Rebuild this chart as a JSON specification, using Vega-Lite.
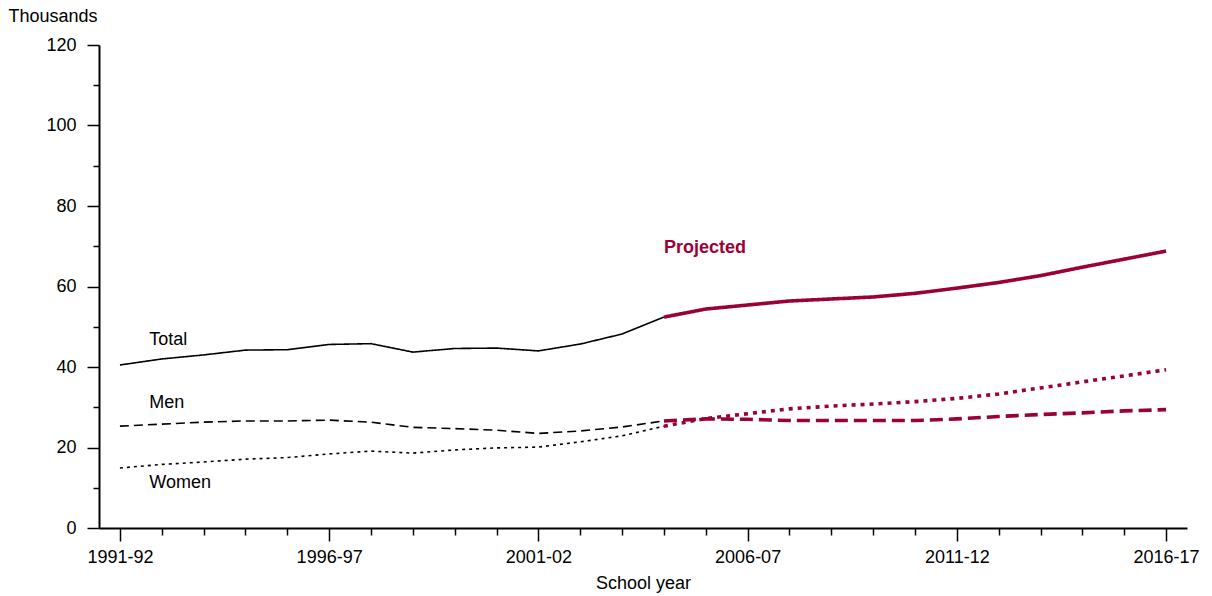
{
  "$schema": "https://vega.github.io/schema/vega-lite/v6.json",
  "width": 1088,
  "height": 483,
  "autosize": {"type": "none"},
  "padding": {"left": 99, "top": 45, "right": 25, "bottom": 68},
  "config": {"view": {"stroke": null}, "font": "Liberation Sans", "background": "white"},
  "datasets": {
    "lines": [
      {"year": 1991, "value": 40.5, "series": "Total", "period": "Observed"},
      {"year": 1992, "value": 42.0, "series": "Total", "period": "Observed"},
      {"year": 1993, "value": 43.0, "series": "Total", "period": "Observed"},
      {"year": 1994, "value": 44.2, "series": "Total", "period": "Observed"},
      {"year": 1995, "value": 44.3, "series": "Total", "period": "Observed"},
      {"year": 1996, "value": 45.6, "series": "Total", "period": "Observed"},
      {"year": 1997, "value": 45.8, "series": "Total", "period": "Observed"},
      {"year": 1998, "value": 43.7, "series": "Total", "period": "Observed"},
      {"year": 1999, "value": 44.6, "series": "Total", "period": "Observed"},
      {"year": 2000, "value": 44.7, "series": "Total", "period": "Observed"},
      {"year": 2001, "value": 44.0, "series": "Total", "period": "Observed"},
      {"year": 2002, "value": 45.7, "series": "Total", "period": "Observed"},
      {"year": 2003, "value": 48.2, "series": "Total", "period": "Observed"},
      {"year": 2004, "value": 52.4, "series": "Total", "period": "Observed"},
      {"year": 2004, "value": 52.4, "series": "Total", "period": "Projected"},
      {"year": 2005, "value": 54.4, "series": "Total", "period": "Projected"},
      {"year": 2006, "value": 55.4, "series": "Total", "period": "Projected"},
      {"year": 2007, "value": 56.4, "series": "Total", "period": "Projected"},
      {"year": 2008, "value": 56.9, "series": "Total", "period": "Projected"},
      {"year": 2009, "value": 57.4, "series": "Total", "period": "Projected"},
      {"year": 2010, "value": 58.3, "series": "Total", "period": "Projected"},
      {"year": 2011, "value": 59.6, "series": "Total", "period": "Projected"},
      {"year": 2012, "value": 61.0, "series": "Total", "period": "Projected"},
      {"year": 2013, "value": 62.7, "series": "Total", "period": "Projected"},
      {"year": 2014, "value": 64.8, "series": "Total", "period": "Projected"},
      {"year": 2015, "value": 66.8, "series": "Total", "period": "Projected"},
      {"year": 2016, "value": 68.8, "series": "Total", "period": "Projected"},
      {"year": 1991, "value": 25.3, "series": "Men", "period": "Observed"},
      {"year": 1992, "value": 25.8, "series": "Men", "period": "Observed"},
      {"year": 1993, "value": 26.3, "series": "Men", "period": "Observed"},
      {"year": 1994, "value": 26.6, "series": "Men", "period": "Observed"},
      {"year": 1995, "value": 26.6, "series": "Men", "period": "Observed"},
      {"year": 1996, "value": 26.8, "series": "Men", "period": "Observed"},
      {"year": 1997, "value": 26.3, "series": "Men", "period": "Observed"},
      {"year": 1998, "value": 25.0, "series": "Men", "period": "Observed"},
      {"year": 1999, "value": 24.7, "series": "Men", "period": "Observed"},
      {"year": 2000, "value": 24.3, "series": "Men", "period": "Observed"},
      {"year": 2001, "value": 23.5, "series": "Men", "period": "Observed"},
      {"year": 2002, "value": 24.1, "series": "Men", "period": "Observed"},
      {"year": 2003, "value": 25.1, "series": "Men", "period": "Observed"},
      {"year": 2004, "value": 26.6, "series": "Men", "period": "Observed"},
      {"year": 2004, "value": 26.6, "series": "Men", "period": "Projected"},
      {"year": 2005, "value": 27.1, "series": "Men", "period": "Projected"},
      {"year": 2006, "value": 27.0, "series": "Men", "period": "Projected"},
      {"year": 2007, "value": 26.7, "series": "Men", "period": "Projected"},
      {"year": 2008, "value": 26.7, "series": "Men", "period": "Projected"},
      {"year": 2009, "value": 26.7, "series": "Men", "period": "Projected"},
      {"year": 2010, "value": 26.7, "series": "Men", "period": "Projected"},
      {"year": 2011, "value": 27.1, "series": "Men", "period": "Projected"},
      {"year": 2012, "value": 27.7, "series": "Men", "period": "Projected"},
      {"year": 2013, "value": 28.2, "series": "Men", "period": "Projected"},
      {"year": 2014, "value": 28.6, "series": "Men", "period": "Projected"},
      {"year": 2015, "value": 29.1, "series": "Men", "period": "Projected"},
      {"year": 2016, "value": 29.4, "series": "Men", "period": "Projected"},
      {"year": 1991, "value": 14.9, "series": "Women", "period": "Observed"},
      {"year": 1992, "value": 15.8, "series": "Women", "period": "Observed"},
      {"year": 1993, "value": 16.4, "series": "Women", "period": "Observed"},
      {"year": 1994, "value": 17.1, "series": "Women", "period": "Observed"},
      {"year": 1995, "value": 17.5, "series": "Women", "period": "Observed"},
      {"year": 1996, "value": 18.4, "series": "Women", "period": "Observed"},
      {"year": 1997, "value": 19.1, "series": "Women", "period": "Observed"},
      {"year": 1998, "value": 18.6, "series": "Women", "period": "Observed"},
      {"year": 1999, "value": 19.4, "series": "Women", "period": "Observed"},
      {"year": 2000, "value": 19.9, "series": "Women", "period": "Observed"},
      {"year": 2001, "value": 20.1, "series": "Women", "period": "Observed"},
      {"year": 2002, "value": 21.4, "series": "Women", "period": "Observed"},
      {"year": 2003, "value": 22.9, "series": "Women", "period": "Observed"},
      {"year": 2004, "value": 25.3, "series": "Women", "period": "Observed"},
      {"year": 2004, "value": 25.3, "series": "Women", "period": "Projected"},
      {"year": 2005, "value": 27.2, "series": "Women", "period": "Projected"},
      {"year": 2006, "value": 28.4, "series": "Women", "period": "Projected"},
      {"year": 2007, "value": 29.6, "series": "Women", "period": "Projected"},
      {"year": 2008, "value": 30.3, "series": "Women", "period": "Projected"},
      {"year": 2009, "value": 30.8, "series": "Women", "period": "Projected"},
      {"year": 2010, "value": 31.4, "series": "Women", "period": "Projected"},
      {"year": 2011, "value": 32.2, "series": "Women", "period": "Projected"},
      {"year": 2012, "value": 33.3, "series": "Women", "period": "Projected"},
      {"year": 2013, "value": 34.8, "series": "Women", "period": "Projected"},
      {"year": 2014, "value": 36.3, "series": "Women", "period": "Projected"},
      {"year": 2015, "value": 37.8, "series": "Women", "period": "Projected"},
      {"year": 2016, "value": 39.3, "series": "Women", "period": "Projected"}
    ],
    "labels": [
      {"year": 1991.7, "value": 46.7, "label": "Total", "kind": "series"},
      {"year": 1991.7, "value": 31.1, "label": "Men", "kind": "series"},
      {"year": 1991.7, "value": 11.2, "label": "Women", "kind": "series"},
      {"year": 2004.0, "value": 69.6, "label": "Projected", "kind": "projected"}
    ]
  },
  "encoding": {
    "x": {
      "field": "year",
      "type": "quantitative",
      "scale": {"domain": [1990.5, 2016.5], "nice": false, "zero": false},
      "axis": {
        "title": "School year",
        "titleFont": "Liberation Sans",
        "titleFontSize": 18,
        "titleFontWeight": "normal",
        "titleColor": "black",
        "titlePadding": 8,
        "values": [1991, 1992, 1993, 1994, 1995, 1996, 1997, 1998, 1999, 2000, 2001, 2002, 2003, 2004, 2005, 2006, 2007, 2008, 2009, 2010, 2011, 2012, 2013, 2014, 2015, 2016],
        "labelExpr": "datum.value % 5 == 1 ? datum.value + '-' + slice('0' + ((datum.value + 1) % 100), -2) : ''",
        "labelFont": "Liberation Sans",
        "labelFontSize": 18,
        "labelColor": "black",
        "labelPadding": 7,
        "labelFlush": false,
        "labelOverlap": false,
        "grid": false,
        "domainColor": "black",
        "domainWidth": 2,
        "tickColor": "black",
        "tickWidth": 1.5,
        "tickSize": {"condition": {"test": "datum.value % 5 == 1", "value": 13}, "value": 7}
      }
    },
    "y": {
      "field": "value",
      "type": "quantitative",
      "scale": {"domain": [0, 120], "nice": false},
      "axis": {
        "title": "Thousands",
        "titleFont": "Liberation Sans",
        "titleFontSize": 18,
        "titleFontWeight": "normal",
        "titleColor": "black",
        "titleAngle": 0,
        "titleAlign": "left",
        "titleBaseline": "alphabetic",
        "titleX": -91,
        "titleY": -24,
        "values": [0, 10, 20, 30, 40, 50, 60, 70, 80, 90, 100, 110, 120],
        "labelExpr": "datum.value % 20 == 0 ? datum.value : ''",
        "labelFont": "Liberation Sans",
        "labelFontSize": 18,
        "labelColor": "black",
        "labelPadding": 11,
        "labelOverlap": false,
        "grid": false,
        "domainColor": "black",
        "domainWidth": 2,
        "tickColor": "black",
        "tickWidth": 1.5,
        "tickSize": {"condition": {"test": "datum.value % 20 == 0", "value": 12}, "value": 6}
      }
    }
  },
  "layer": [
    {
      "data": {"name": "lines"},
      "transform": [{"filter": "datum.period == 'Observed'"}],
      "mark": {"type": "line", "color": "black", "strokeWidth": 1.6},
      "encoding": {
        "strokeDash": {
          "field": "series",
          "type": "nominal",
          "scale": {"domain": ["Total", "Men", "Women"], "range": [[1, 0], [9, 5], [3, 4]]},
          "legend": null
        }
      }
    },
    {
      "data": {"name": "lines"},
      "transform": [{"filter": "datum.period == 'Projected'"}],
      "mark": {"type": "line", "color": "#9b0036", "strokeWidth": 3.6},
      "encoding": {
        "strokeDash": {
          "field": "series",
          "type": "nominal",
          "scale": {"domain": ["Total", "Men", "Women"], "range": [[1, 0], [13, 6], [4, 5]]},
          "legend": null
        }
      }
    },
    {
      "data": {"name": "labels"},
      "transform": [{"filter": "datum.kind == 'series'"}],
      "mark": {"type": "text", "align": "left", "baseline": "middle", "font": "Liberation Sans", "fontSize": 18, "color": "black"},
      "encoding": {
        "text": {"field": "label"}
      }
    },
    {
      "data": {"name": "labels"},
      "transform": [{"filter": "datum.kind == 'projected'"}],
      "mark": {"type": "text", "align": "left", "baseline": "middle", "font": "Liberation Sans", "fontSize": 18, "fontWeight": "bold", "color": "#9b0036"},
      "encoding": {
        "text": {"field": "label"}
      }
    }
  ],
  "resolve": {"scale": {"strokeDash": "independent"}}
}
